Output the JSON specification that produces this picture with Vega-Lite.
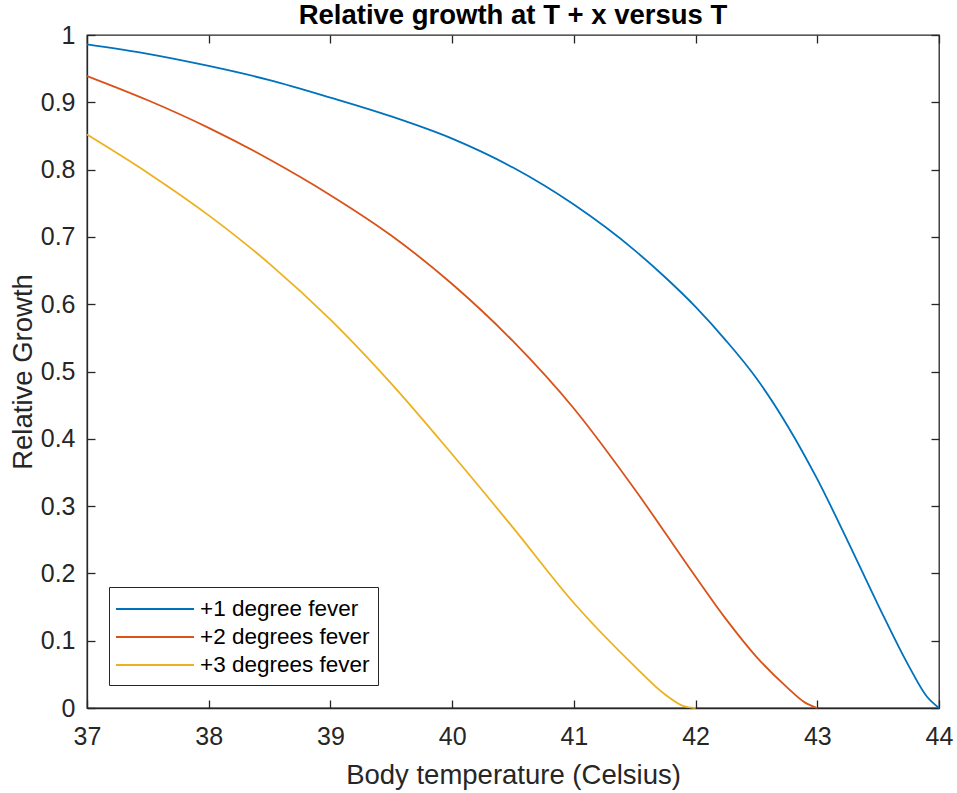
{
  "$schema": "https://vega.github.io/schema/vega-lite/v6.json",
  "autosize": {"type": "none"},
  "padding": {"left": 87, "top": 35, "right": 18, "bottom": 85},
  "width": 852,
  "height": 673,
  "background": "white",
  "title": {
    "text": "Relative growth at T + x versus T",
    "font": "Liberation Sans",
    "fontSize": 27.5,
    "fontWeight": "bold",
    "color": "#000000",
    "anchor": "middle",
    "offset": -6
  },
  "data": {
    "values": [
      {"series": "+1 degree fever", "t": 37.0, "g": 0.986},
      {"series": "+1 degree fever", "t": 37.5, "g": 0.972},
      {"series": "+1 degree fever", "t": 38.0, "g": 0.954},
      {"series": "+1 degree fever", "t": 38.5, "g": 0.933},
      {"series": "+1 degree fever", "t": 39.0, "g": 0.907},
      {"series": "+1 degree fever", "t": 39.5, "g": 0.879},
      {"series": "+1 degree fever", "t": 40.0, "g": 0.846},
      {"series": "+1 degree fever", "t": 40.5, "g": 0.803},
      {"series": "+1 degree fever", "t": 41.0, "g": 0.748},
      {"series": "+1 degree fever", "t": 41.5, "g": 0.68},
      {"series": "+1 degree fever", "t": 41.75, "g": 0.64},
      {"series": "+1 degree fever", "t": 42.0, "g": 0.596},
      {"series": "+1 degree fever", "t": 42.25, "g": 0.546},
      {"series": "+1 degree fever", "t": 42.5, "g": 0.49},
      {"series": "+1 degree fever", "t": 42.75, "g": 0.421},
      {"series": "+1 degree fever", "t": 43.0, "g": 0.34},
      {"series": "+1 degree fever", "t": 43.25, "g": 0.248},
      {"series": "+1 degree fever", "t": 43.5, "g": 0.153},
      {"series": "+1 degree fever", "t": 43.75, "g": 0.063},
      {"series": "+1 degree fever", "t": 43.9, "g": 0.017},
      {"series": "+1 degree fever", "t": 44.0, "g": 0.0},
      {"series": "+2 degrees fever", "t": 37.0, "g": 0.939},
      {"series": "+2 degrees fever", "t": 37.5, "g": 0.903},
      {"series": "+2 degrees fever", "t": 38.0, "g": 0.862},
      {"series": "+2 degrees fever", "t": 38.5, "g": 0.815},
      {"series": "+2 degrees fever", "t": 39.0, "g": 0.762},
      {"series": "+2 degrees fever", "t": 39.5, "g": 0.702},
      {"series": "+2 degrees fever", "t": 40.0, "g": 0.63},
      {"series": "+2 degrees fever", "t": 40.5, "g": 0.545},
      {"series": "+2 degrees fever", "t": 41.0, "g": 0.445},
      {"series": "+2 degrees fever", "t": 41.5, "g": 0.325},
      {"series": "+2 degrees fever", "t": 42.0, "g": 0.195},
      {"series": "+2 degrees fever", "t": 42.25, "g": 0.132},
      {"series": "+2 degrees fever", "t": 42.5, "g": 0.076},
      {"series": "+2 degrees fever", "t": 42.75, "g": 0.031},
      {"series": "+2 degrees fever", "t": 42.9, "g": 0.008},
      {"series": "+2 degrees fever", "t": 43.0, "g": 0.0},
      {"series": "+3 degrees fever", "t": 37.0, "g": 0.852},
      {"series": "+3 degrees fever", "t": 37.5, "g": 0.795},
      {"series": "+3 degrees fever", "t": 38.0, "g": 0.732},
      {"series": "+3 degrees fever", "t": 38.5, "g": 0.66},
      {"series": "+3 degrees fever", "t": 39.0, "g": 0.577},
      {"series": "+3 degrees fever", "t": 39.5, "g": 0.482},
      {"series": "+3 degrees fever", "t": 40.0, "g": 0.377},
      {"series": "+3 degrees fever", "t": 40.5, "g": 0.268},
      {"series": "+3 degrees fever", "t": 41.0, "g": 0.156},
      {"series": "+3 degrees fever", "t": 41.5, "g": 0.062},
      {"series": "+3 degrees fever", "t": 41.75, "g": 0.02},
      {"series": "+3 degrees fever", "t": 41.9, "g": 0.003},
      {"series": "+3 degrees fever", "t": 42.0, "g": 0.0}
    ]
  },
  "layer": [
    {
      "mark": {"type": "line", "strokeWidth": 1.8, "interpolate": "monotone"},
      "encoding": {
        "x": {
          "field": "t",
          "type": "quantitative",
          "scale": {"domain": [37, 44], "nice": false, "zero": false},
          "axis": {
            "orient": "bottom",
            "values": [37, 38, 39, 40, 41, 42, 43, 44],
            "title": "Body temperature (Celsius)",
            "labelPadding": 24,
            "titlePadding": 12
          }
        },
        "y": {
          "field": "g",
          "type": "quantitative",
          "scale": {"domain": [0, 1], "nice": false},
          "axis": {
            "orient": "left",
            "values": [0, 0.1, 0.2, 0.3, 0.4, 0.5, 0.6, 0.7, 0.8, 0.9, 1],
            "format": "~g",
            "title": "Relative Growth",
            "labelPadding": 20,
            "titlePadding": 3
          }
        },
        "color": {
          "field": "series",
          "type": "nominal",
          "scale": {
            "domain": ["+1 degree fever", "+2 degrees fever", "+3 degrees fever"],
            "range": ["#0072BD", "#D95319", "#EDB120"]
          },
          "legend": {
            "title": null,
            "orient": "none",
            "legendX": 22,
            "legendY": 552,
            "symbolType": "M-3,0L3,0",
            "symbolSize": 676,
            "symbolStrokeWidth": 1.8,
            "symbolOffset": 24,
            "labelFont": "Liberation Sans",
            "labelFontSize": 22.5,
            "labelColor": "#000000",
            "labelOffset": 31,
            "labelLimit": 400,
            "rowPadding": 2,
            "padding": 8,
            "strokeColor": "#262626",
            "fillColor": "white"
          }
        }
      }
    },
    {
      "mark": {"type": "point", "opacity": 0},
      "encoding": {
        "x": {
          "field": "t",
          "type": "quantitative",
          "axis": {
            "orient": "top",
            "values": [37, 38, 39, 40, 41, 42, 43, 44],
            "labels": false,
            "domain": false,
            "title": null
          }
        },
        "y": {
          "field": "g",
          "type": "quantitative",
          "axis": {
            "orient": "right",
            "values": [0, 0.1, 0.2, 0.3, 0.4, 0.5, 0.6, 0.7, 0.8, 0.9, 1],
            "labels": false,
            "domain": false,
            "title": null
          }
        }
      }
    }
  ],
  "resolve": {"axis": {"x": "independent", "y": "independent"}},
  "config": {
    "view": {"stroke": "#262626", "strokeWidth": 1.3},
    "axis": {
      "grid": false,
      "domainColor": "#262626",
      "domainWidth": 1.3,
      "tickColor": "#262626",
      "tickWidth": 1.3,
      "tickSize": -8,
      "labelFlush": false,
      "labelOverlap": false,
      "labelFont": "Liberation Sans",
      "labelFontSize": 25,
      "labelColor": "#262626",
      "titleFont": "Liberation Sans",
      "titleFontSize": 27.5,
      "titleFontWeight": "normal",
      "titleColor": "#262626"
    }
  }
}
